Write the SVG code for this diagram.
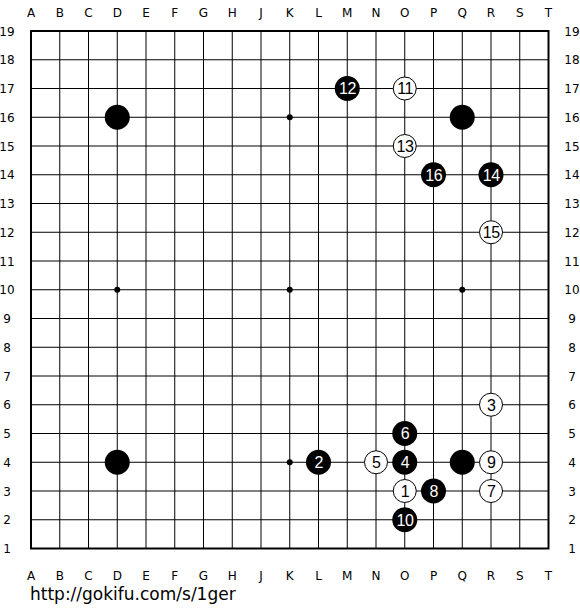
<svg xmlns="http://www.w3.org/2000/svg" width="580" height="610" viewBox="0 0 580 610">
<style>
.grid{stroke:#000;stroke-width:1;fill:none}
.border{stroke:#000;stroke-width:2;fill:none}
.lbl{font-family:"DejaVu Sans","Liberation Sans",sans-serif;font-size:12px;fill:#000;text-anchor:middle}
.b{fill:#000}
.w{fill:#fff;stroke:#000;stroke-width:1}
.nb{font-family:"Liberation Sans",Arial,sans-serif;font-size:16px;fill:#fff;text-anchor:middle;letter-spacing:-0.5px}
.nw{font-family:"Liberation Sans",Arial,sans-serif;font-size:16px;fill:#000;text-anchor:middle;letter-spacing:-0.5px}
.url{font-family:"DejaVu Sans","Liberation Sans",sans-serif;font-size:17px;fill:#000}
</style>
<rect width="580" height="610" fill="#fff"/>
<g id="board">
<path class="grid" d="M59.75 31V548.5M88.5 31V548.5M117.25 31V548.5M146 31V548.5M174.75 31V548.5M203.5 31V548.5M232.25 31V548.5M261 31V548.5M289.75 31V548.5M318.5 31V548.5M347.25 31V548.5M376 31V548.5M404.75 31V548.5M433.5 31V548.5M462.25 31V548.5M491 31V548.5M519.75 31V548.5M31 59.75H548.5M31 88.5H548.5M31 117.25H548.5M31 146H548.5M31 174.75H548.5M31 203.5H548.5M31 232.25H548.5M31 261H548.5M31 289.75H548.5M31 318.5H548.5M31 347.25H548.5M31 376H548.5M31 404.75H548.5M31 433.5H548.5M31 462.25H548.5M31 491H548.5M31 519.75H548.5"/>
<rect class="border" x="31" y="31" width="517.5" height="517.5"/>
<g class="b">
<circle cx="289.75" cy="117.25" r="3"/>
<circle cx="117.25" cy="289.75" r="3"/>
<circle cx="289.75" cy="289.75" r="3"/>
<circle cx="462.25" cy="289.75" r="3"/>
<circle cx="289.75" cy="462.25" r="3"/>
</g>
</g>
<g id="coords">
<g class="lbl">
<text x="31" y="17">A</text><text x="59.75" y="17">B</text><text x="88.5" y="17">C</text><text x="117.25" y="17">D</text><text x="146" y="17">E</text><text x="174.75" y="17">F</text><text x="203.5" y="17">G</text><text x="232.25" y="17">H</text><text x="261" y="17">J</text><text x="289.75" y="17">K</text><text x="318.5" y="17">L</text><text x="347.25" y="17">M</text><text x="376" y="17">N</text><text x="404.75" y="17">O</text><text x="433.5" y="17">P</text><text x="462.25" y="17">Q</text><text x="491" y="17">R</text><text x="519.75" y="17">S</text><text x="548.5" y="17">T</text>
<text x="31" y="580">A</text><text x="59.75" y="580">B</text><text x="88.5" y="580">C</text><text x="117.25" y="580">D</text><text x="146" y="580">E</text><text x="174.75" y="580">F</text><text x="203.5" y="580">G</text><text x="232.25" y="580">H</text><text x="261" y="580">J</text><text x="289.75" y="580">K</text><text x="318.5" y="580">L</text><text x="347.25" y="580">M</text><text x="376" y="580">N</text><text x="404.75" y="580">O</text><text x="433.5" y="580">P</text><text x="462.25" y="580">Q</text><text x="491" y="580">R</text><text x="519.75" y="580">S</text><text x="548.5" y="580">T</text>
<text x="7" y="35.5">19</text><text x="7" y="64.25">18</text><text x="7" y="93">17</text><text x="7" y="121.75">16</text><text x="7" y="150.5">15</text><text x="7" y="179.25">14</text><text x="7" y="208">13</text><text x="7" y="236.75">12</text><text x="7" y="265.5">11</text><text x="7" y="294.25">10</text><text x="7" y="323">9</text><text x="7" y="351.75">8</text><text x="7" y="380.5">7</text><text x="7" y="409.25">6</text><text x="7" y="438">5</text><text x="7" y="466.75">4</text><text x="7" y="495.5">3</text><text x="7" y="524.25">2</text><text x="7" y="553">1</text>
<text x="572" y="35.5">19</text><text x="572" y="64.25">18</text><text x="572" y="93">17</text><text x="572" y="121.75">16</text><text x="572" y="150.5">15</text><text x="572" y="179.25">14</text><text x="572" y="208">13</text><text x="572" y="236.75">12</text><text x="572" y="265.5">11</text><text x="572" y="294.25">10</text><text x="572" y="323">9</text><text x="572" y="351.75">8</text><text x="572" y="380.5">7</text><text x="572" y="409.25">6</text><text x="572" y="438">5</text><text x="572" y="466.75">4</text><text x="572" y="495.5">3</text><text x="572" y="524.25">2</text><text x="572" y="553">1</text>
</g>
</g>
<g id="stones">
<g id="D16"><circle class="b" cx="117.25" cy="117.25" r="12.5"/></g>
<g id="Q16"><circle class="b" cx="462.25" cy="117.25" r="12.5"/></g>
<g id="D4"><circle class="b" cx="117.25" cy="462.25" r="12.5"/></g>
<g id="Q4"><circle class="b" cx="462.25" cy="462.25" r="12.5"/></g>
<g id="m1"><circle class="w" cx="404.75" cy="491" r="11.5"/><text class="nw" x="405" y="496.8">1</text></g>
<g id="m2"><circle class="b" cx="318.5" cy="462.25" r="12.5"/><text class="nb" x="318.75" y="468.05">2</text></g>
<g id="m3"><circle class="w" cx="491" cy="404.75" r="11.5"/><text class="nw" x="491.25" y="410.55">3</text></g>
<g id="m4"><circle class="b" cx="404.75" cy="462.25" r="12.5"/><text class="nb" x="405" y="468.05">4</text></g>
<g id="m5"><circle class="w" cx="376" cy="462.25" r="11.5"/><text class="nw" x="376.25" y="468.05">5</text></g>
<g id="m6"><circle class="b" cx="404.75" cy="433.5" r="12.5"/><text class="nb" x="405" y="439.3">6</text></g>
<g id="m7"><circle class="w" cx="491" cy="491" r="11.5"/><text class="nw" x="491.25" y="496.8">7</text></g>
<g id="m8"><circle class="b" cx="433.5" cy="491" r="12.5"/><text class="nb" x="433.75" y="496.8">8</text></g>
<g id="m9"><circle class="w" cx="491" cy="462.25" r="11.5"/><text class="nw" x="491.25" y="468.05">9</text></g>
<g id="m10"><circle class="b" cx="404.75" cy="519.75" r="12.5"/><text class="nb" x="405" y="525.55">10</text></g>
<g id="m11"><circle class="w" cx="404.75" cy="88.5" r="11.5"/><text class="nw" x="405" y="94.3">11</text></g>
<g id="m12"><circle class="b" cx="347.25" cy="88.5" r="12.5"/><text class="nb" x="347.5" y="94.3">12</text></g>
<g id="m13"><circle class="w" cx="404.75" cy="146" r="11.5"/><text class="nw" x="405" y="151.8">13</text></g>
<g id="m14"><circle class="b" cx="491" cy="174.75" r="12.5"/><text class="nb" x="491.25" y="180.55">14</text></g>
<g id="m15"><circle class="w" cx="491" cy="232.25" r="11.5"/><text class="nw" x="491.25" y="238.05">15</text></g>
<g id="m16"><circle class="b" cx="433.5" cy="174.75" r="12.5"/><text class="nb" x="433.75" y="180.55">16</text></g>
</g>
<text class="url" x="30" y="600">http://gokifu.com/s/1ger</text>
</svg>
